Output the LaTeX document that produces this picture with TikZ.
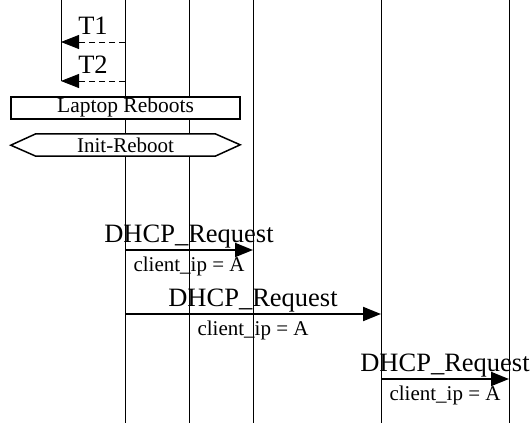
\documentclass[tikz,border=0pt]{standalone}
\usepackage{fontspec}
\setmainfont{Liberation Serif}
\usetikzlibrary{arrows.meta}
\begin{document}
\begin{tikzpicture}[x=1pt,y=-1pt,
    life line/.style={line width=0.8pt},
    msg/.style={line width=2pt,-{Triangle[length=18pt,width=14pt]}},
    timer/.style={line width=0.8pt,dash pattern=on 6pt off 4pt,-{Triangle[length=18pt,width=14pt]}},
    big label/.style={font=\fontsize{26.5}{31}\selectfont,anchor=base,yshift=8pt,inner sep=0pt},
    small label/.style={font=\fontsize{21}{25}\selectfont,anchor=base,yshift=-21pt,inner sep=0pt},
    event box/.style={draw,fill=white,font=\fontsize{21.5}{25}\selectfont,inner sep=0pt}]
    \useasboundingbox (0,0) rectangle (532,423);

    % life lines
    \foreach \x/\n in {125/a,189/b,253/c,381/d,509/e} {
        \coordinate (\n top) at (\x,0);
        \coordinate (\n bot) at (\x,423);
        \draw[life line] (\n top) -- (\n bot);
    }
    \coordinate (t top) at (61,0);
    \coordinate (t bot) at (61,81);
    \draw[life line] (t top) -- (t bot);

    % timers
    \coordinate (t1 s) at (125,42);
    \coordinate (t1 e) at (61,42);
    \coordinate (t2 s) at (125,81);
    \coordinate (t2 e) at (61,81);

    % boxes
    \node[event box, line width=2pt, minimum width=229pt, minimum height=22pt] at (125.5,107.5) (laptop) {Laptop Reboots};
    \node[inner sep=0pt, minimum width=179pt, minimum height=22pt] at (125.5,145) (init) {};
    \draw[line width=1.5pt, fill=white] (init.north west) -- (init.north east) -- ++(25,11) -- (init.south east)
        -- (init.south west) -- ++(-25,-11) -- cycle;
    \node[font=\fontsize{21}{25}\selectfont, inner sep=0pt] at (init) (init text) {Init-Reboot};

    % requests
    \coordinate (r1 s) at (125,250);
    \coordinate (r1 e) at (253,250);
    \coordinate (r2 s) at (125,314);
    \coordinate (r2 e) at (381,314);
    \coordinate (r3 s) at (381,379);
    \coordinate (r3 e) at (509,379);

    \path
        (t1 s) edge[timer] node[big label] {T1} (t1 e)
        (t2 s) edge[timer] node[big label] {T2} (t2 e)
        (r1 s) edge[msg] node[big label] {DHCP\_Request} node[small label] {client\_ip = A} (r1 e)
        (r2 s) edge[msg] node[big label] {DHCP\_Request} node[small label] {client\_ip = A} (r2 e)
        (r3 s) edge[msg] node[big label] {DHCP\_Request} node[small label] {client\_ip = A} (r3 e)
        ;
\end{tikzpicture}
\end{document}
